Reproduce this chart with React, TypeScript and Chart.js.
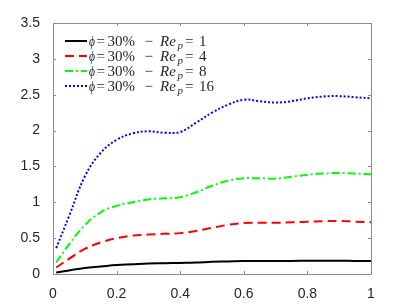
import React, { useEffect, useRef } from "react";
import { Chart, registerables } from "chart.js";

Chart.register(...registerables);

const xValues = [0.01, 0.05, 0.1, 0.15, 0.2, 0.25, 0.3, 0.35, 0.4, 0.45, 0.5, 0.55, 0.6, 0.65, 0.7, 0.75, 0.8, 0.85, 0.9, 0.95, 1.0];
const re1 = [0.02, 0.05, 0.085, 0.105, 0.125, 0.135, 0.145, 0.15, 0.155, 0.16, 0.17, 0.175, 0.18, 0.18, 0.18, 0.182, 0.185, 0.185, 0.185, 0.183, 0.182];
const re4 = [0.09, 0.21, 0.35, 0.44, 0.5, 0.535, 0.55, 0.56, 0.57, 0.6, 0.645, 0.685, 0.71, 0.715, 0.715, 0.72, 0.73, 0.735, 0.74, 0.73, 0.72];
const re8 = [0.16, 0.41, 0.68, 0.86, 0.95, 1.0, 1.04, 1.055, 1.07, 1.14, 1.23, 1.3, 1.335, 1.335, 1.33, 1.355, 1.385, 1.4, 1.41, 1.4, 1.39];
const re16 = [0.36, 0.8, 1.36, 1.69, 1.87, 1.96, 1.99, 1.97, 1.98, 2.11, 2.25, 2.36, 2.43, 2.41, 2.39, 2.41, 2.45, 2.475, 2.48, 2.465, 2.45];
const reLabels = ["1", "4", "8", "16"];
const phiLabel = "30%";
const xTicks = [0, 0.2, 0.4, 0.6, 0.8, 1];
const yTicks = [0, 0.5, 1, 1.5, 2, 2.5, 3, 3.5];

const series = [re1, re4, re8, re16];
const colors = ["#000000", "#ff0000", "#00ff00", "#0000ff"];
const dashes = [[], [9, 5], [8, 3, 2, 3], [2, 2]];

const frameColor = "#8c8c8c";
const textColor = "#262626";

const framePlugin = {
  id: "frame",
  afterDraw(chart: any) {
    const { ctx, chartArea: a, scales } = chart;
    ctx.save();
    ctx.strokeStyle = frameColor;
    ctx.lineWidth = 1;
    ctx.setLineDash([]);
    ctx.beginPath();
    ctx.rect(Math.round(a.left) + 0.5, Math.round(a.top) + 0.5, Math.round(a.right - a.left), Math.round(a.bottom - a.top));
    ctx.stroke();
    const tl = 3;
    ctx.beginPath();
    for (const v of xTicks) {
      const px = Math.round(scales.x.getPixelForValue(v)) + 0.5;
      ctx.moveTo(px, a.bottom);
      ctx.lineTo(px, a.bottom - tl);
      ctx.moveTo(px, a.top);
      ctx.lineTo(px, a.top + tl);
    }
    for (const v of yTicks) {
      const py = Math.round(scales.y.getPixelForValue(v)) + 0.5;
      ctx.moveTo(a.left, py);
      ctx.lineTo(a.left + tl, py);
      ctx.moveTo(a.right, py);
      ctx.lineTo(a.right - tl, py);
    }
    ctx.stroke();
    ctx.restore();
  },
};

const legendPlugin = {
  id: "mathLegend",
  afterDraw(chart: any) {
    const { ctx, chartArea: a } = chart;
    const x0 = a.left + 12;
    const y0 = a.top + 17.5;
    const rowH = 15.2;
    const fs = 15;
    const serif = "'Liberation Serif', 'DejaVu Serif', serif";
    chart.data.datasets.forEach((ds: any, i: number) => {
      const y = Math.round(y0 + i * rowH);
      ctx.save();
      ctx.strokeStyle = ds.borderColor;
      ctx.lineWidth = ds.borderWidth;
      ctx.setLineDash(ds.borderDash || []);
      ctx.beginPath();
      ctx.moveTo(x0, y);
      ctx.lineTo(x0 + 22, y);
      ctx.stroke();
      ctx.setLineDash([]);
      ctx.fillStyle = textColor;
      ctx.textBaseline = "middle";
      ctx.textAlign = "left";
      const ty = y + 1;
      ctx.font = `italic ${fs}px ${serif}`;
      const pw = ctx.measureText("\u03d5").width;
      ctx.save();
      ctx.translate(x0 + 24, ty);
      ctx.scale(Math.min(1, 6 / pw), 1);
      ctx.fillText("\u03d5", 0, 0);
      ctx.restore();
      ctx.font = `${fs}px ${serif}`;
      ctx.fillText("=", x0 + 31.5, ty);
      ctx.fillText(phiLabel, x0 + 42.5, ty);
      ctx.fillText("\u2212", x0 + 79.5, ty);
      ctx.font = `italic ${fs}px ${serif}`;
      ctx.fillText("Re", x0 + 95, ty);
      ctx.font = `italic ${fs - 4}px ${serif}`;
      ctx.fillText("p", x0 + 112.5, ty + 4);
      ctx.font = `${fs}px ${serif}`;
      ctx.fillText("=", x0 + 120, ty);
      ctx.fillText(ds.reLabel, x0 + 134, ty);
      ctx.restore();
    });
  },
};

export default function App() {
  const ref = useRef<HTMLCanvasElement | null>(null);
  useEffect(() => {
    if (!ref.current) return;
    const tickFont = { family: "'Liberation Sans', Arial, sans-serif", size: 14 };
    const chart = new Chart(ref.current, {
      type: "line",
      data: {
        datasets: series.map((s, i) => ({
          label: `\u03d5 = ${phiLabel} \u2212 Re_p = ${reLabels[i]}`,
          reLabel: reLabels[i],
          data: s.map((v, j) => ({ x: xValues[j], y: v })),
          borderColor: colors[i],
          backgroundColor: colors[i],
          borderWidth: 2,
          borderDash: dashes[i],
          pointRadius: 0,
          tension: 0.4,
          fill: false,
        })) as any,
      },
      options: {
        animation: false,
        responsive: false,
        layout: { padding: { top: 23, right: 40, left: 0, bottom: 0 } },
        plugins: { legend: { display: false }, tooltip: { enabled: false } },
        scales: {
          x: {
            type: "linear",
            min: 0,
            max: 1,
            grid: { display: false },
            border: { display: false },
            afterBuildTicks: (s: any) => { s.ticks = xTicks.map((v) => ({ value: v })); },
            afterFit: (s: any) => { s.height = 34; },
            ticks: { autoSkip: false, maxRotation: 0, color: textColor, font: tickFont, padding: 4, callback: (v: any) => String(v) },
          },
          y: {
            type: "linear",
            min: 0,
            max: 3.5,
            grid: { display: false },
            border: { display: false },
            afterBuildTicks: (s: any) => { s.ticks = yTicks.map((v) => ({ value: v })); },
            afterFit: (s: any) => { s.width = 53; },
            ticks: { autoSkip: false, color: textColor, font: tickFont, padding: 5, callback: (v: any) => String(v) },
          },
        },
      },
      plugins: [framePlugin, legendPlugin],
    });
    return () => chart.destroy();
  }, []);
  return (
    <div style={{ position: "absolute", left: 0, top: 0, width: 411, height: 308, background: "#fff" }}>
      <canvas ref={ref} width={411} height={308} style={{ display: "block", width: 411, height: 308 }} />
    </div>
  );
}
